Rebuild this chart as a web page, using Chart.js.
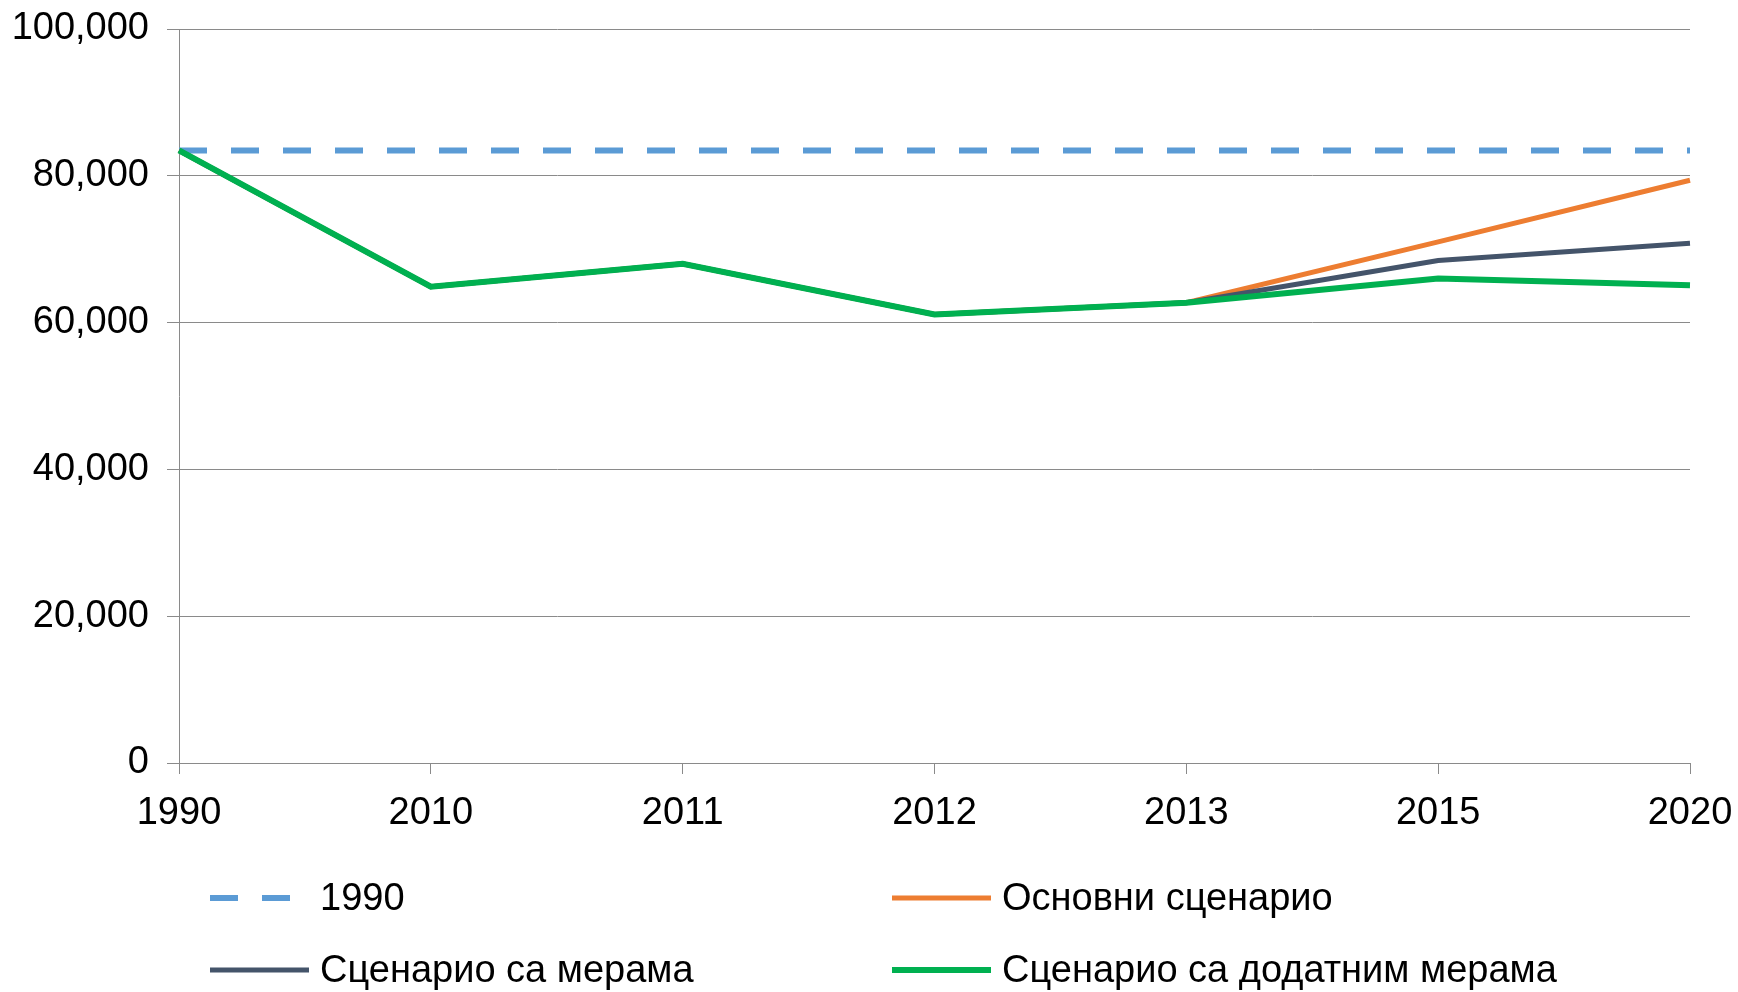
<!DOCTYPE html>
<html>
<head>
<meta charset="utf-8">
<script src="https://cdn.jsdelivr.net/npm/chart.js@4.4.1/dist/chart.umd.min.js"></script>
<style>
  html, body { margin: 0; padding: 0; background: #fff; }
  #wrap { width: 1738px; height: 992px; position: relative; }
</style>
</head>
<body>
<div id="wrap"><canvas id="c"></canvas></div>
<script>
const categories = ['1990', '2010', '2011', '2012', '2013', '2015', '2020'];
const yTicks = [0, 20000, 40000, 60000, 80000, 100000];
const level1990 = [83450, 83450, 83450, 83450, 83450, 83450, 83450];
const osnovniScenario = [83450, 64900, 68000, 61100, 62700, 71000, 79400];
const scenarioMerama = [83450, 64900, 68000, 61100, 62700, 68450, 70800];
const scenarioDodatnim = [83450, 64900, 68000, 61100, 62700, 66000, 65100];

const FONT = "'Liberation Sans', Arial, sans-serif";
const GRID = '#8a8a8a';

const legendPlugin = {
  id: 'customLegend',
  afterDraw(chart) {
    const ctx = chart.ctx;
    const ds = chart.data.datasets;
    const byLabel = l => ds.find(d => d.label === l);
    const items = [
      { d: byLabel('1990'), x: 210, y: 898 },
      { d: byLabel('Основни сценарио'), x: 892, y: 898 },
      { d: byLabel('Сценарио са мерама'), x: 210, y: 970 },
      { d: byLabel('Сценарио са додатним мерама'), x: 892, y: 970 }
    ];
    ctx.save();
    items.forEach(it => {
      const d = it.d;
      ctx.beginPath();
      ctx.strokeStyle = d.borderColor;
      ctx.lineWidth = d.borderWidth;
      ctx.lineCap = 'butt';
      ctx.setLineDash(d.borderDash || []);
      ctx.moveTo(it.x, it.y);
      ctx.lineTo(it.x + 99, it.y);
      ctx.stroke();
      ctx.setLineDash([]);
      ctx.fillStyle = '#000';
      ctx.font = "38px " + FONT;
      ctx.textBaseline = 'middle';
      ctx.textAlign = 'left';
      ctx.fillText(d.label, it.x + 110, it.y + 2);
    });
    ctx.restore();
  }
};

new Chart(document.getElementById('c'), {
  type: 'line',
  data: {
    labels: categories,
    datasets: [
      { label: 'Сценарио са додатним мерама', data: scenarioDodatnim, borderColor: '#00B050', backgroundColor: '#00B050', borderWidth: 6, pointRadius: 0, tension: 0, order: 0 },
      { label: 'Сценарио са мерама', data: scenarioMerama, borderColor: '#44546A', backgroundColor: '#44546A', borderWidth: 5, pointRadius: 0, tension: 0, order: 1 },
      { label: 'Основни сценарио', data: osnovniScenario, borderColor: '#ED7D31', backgroundColor: '#ED7D31', borderWidth: 5, pointRadius: 0, tension: 0, order: 2 },
      { label: '1990', data: level1990, borderColor: '#5B9BD5', backgroundColor: '#5B9BD5', borderWidth: 6, borderDash: [28, 24], pointRadius: 0, tension: 0, order: 3 }
    ]
  },
  options: {
    responsive: true,
    maintainAspectRatio: false,
    animation: false,
    layout: { padding: { top: 29, right: 48, bottom: 149, left: 0 } },
    plugins: { legend: { display: false }, tooltip: { enabled: false } },
    scales: {
      x: {
        afterFit(s) { s.height = 80; s.paddingRight = 0; s.paddingLeft = 0; },
        grid: { display: true, drawOnChartArea: false, drawTicks: true, tickLength: 11, color: GRID, lineWidth: 1 },
        border: { display: true, color: GRID, width: 1 },
        ticks: { color: '#000', font: { family: FONT, size: 38 }, padding: 17, maxRotation: 0, autoSkip: false }
      },
      y: {
        min: 0, max: 100000,
        afterFit(s) { s.width = 179; s.paddingTop = 0; s.paddingBottom = 0; },
        afterBuildTicks(s) { s.ticks = yTicks.map(v => ({ value: v })); },
        grid: { display: true, drawOnChartArea: true, drawTicks: true, tickLength: 12, color: GRID, lineWidth: 1 },
        border: { display: true, color: GRID, width: 1 },
        ticks: {
          color: '#000', font: { family: FONT, size: 38 }, padding: 18,
          callback: v => v.toLocaleString('en-US')
        }
      }
    }
  },
  plugins: [legendPlugin]
});
</script>
</body>
</html>
